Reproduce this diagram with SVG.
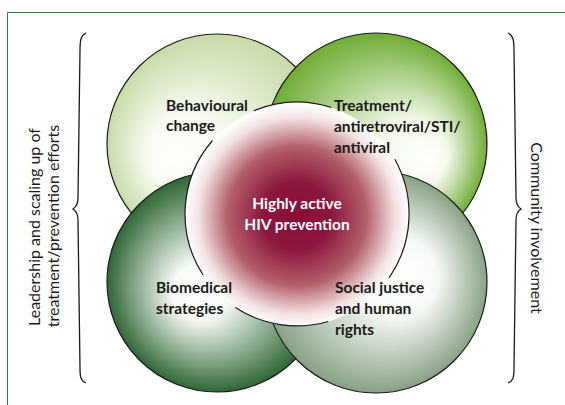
<svg xmlns="http://www.w3.org/2000/svg" width="565" height="405" viewBox="0 0 565 405">
<style>
.circ{stroke:#1a1a1a;stroke-width:1.2}
.lbl{font-family:Lato,"Liberation Sans",sans-serif;font-weight:bold;font-size:15.5px;fill:#1a1a1a}
.ctr{font-family:Lato,"Liberation Sans",sans-serif;font-weight:bold;font-size:15.5px;fill:#ffffff;text-anchor:middle}
.side{font-family:Lato,"Liberation Sans",sans-serif;font-size:16px;fill:#1a1a1a;text-anchor:middle}
.brace{fill:none;stroke:#1a1a1a;stroke-width:1.3}
</style>
<defs>
<radialGradient id="gPale" gradientUnits="userSpaceOnUse" cx="217" cy="144" r="112" fx="170" fy="160">
<stop offset="0" stop-color="#ffffff"/>
<stop offset="0.35" stop-color="#f8fbf2"/>
<stop offset="1" stop-color="#c6daa6"/>
</radialGradient>
<radialGradient id="gGreen" gradientUnits="userSpaceOnUse" cx="376" cy="144" r="112" fx="430" fy="160">
<stop offset="0" stop-color="#ffffff"/>
<stop offset="0.3" stop-color="#f4f9ec"/>
<stop offset="1" stop-color="#6eab33"/>
</radialGradient>
<radialGradient id="gDark" gradientUnits="userSpaceOnUse" cx="217" cy="282" r="112" fx="195" fy="295">
<stop offset="0" stop-color="#ffffff"/>
<stop offset="0.25" stop-color="#f7faf6"/>
<stop offset="1" stop-color="#2a6331"/>
</radialGradient>
<radialGradient id="gGrey" gradientUnits="userSpaceOnUse" cx="376" cy="282" r="112" fx="410" fy="275">
<stop offset="0" stop-color="#ffffff"/>
<stop offset="0.35" stop-color="#f7f9f6"/>
<stop offset="1" stop-color="#86a083"/>
</radialGradient>
<radialGradient id="gCenter" gradientUnits="userSpaceOnUse" cx="297" cy="216" r="112">
<stop offset="0" stop-color="#880d38"/>
<stop offset="0.3" stop-color="#8c163e"/>
<stop offset="0.62" stop-color="#b2606a"/>
<stop offset="0.88" stop-color="#f2e2e2"/>
<stop offset="1" stop-color="#ffffff"/>
</radialGradient>
</defs>
<rect width="565" height="405" fill="#ffffff"/>
<path d="M7.5,405 V12.5 H565" fill="none" stroke="#2e7a45" stroke-width="1"/>

<g id="brace-left"><path class="brace" d="M86,33 C81,35 80,40 80,50 L78,198 C78,204 76,207 73,209 C76,211 78,214 78,220 L80,368 C80,378 81,381 86,383"/></g>
<g id="brace-right"><path class="brace" d="M508,33 C513,35 514,40 514,50 L516,198 C516,204 518,207 521,209 C518,211 516,214 516,220 L514,368 C514,378 513,381 508,383"/></g>

<g id="node-behavioural"><circle class="circ" cx="217" cy="144" r="110" fill="url(#gPale)"/></g>
<g id="node-treatment"><circle class="circ" cx="376" cy="144" r="111" fill="url(#gGreen)"/></g>
<g id="node-biomedical"><circle class="circ" cx="217" cy="282" r="110" fill="url(#gDark)"/></g>
<g id="node-social"><circle class="circ" cx="376" cy="282" r="111" fill="url(#gGrey)"/></g>
<g id="node-center">
<circle cx="297" cy="214" r="112" fill="url(#gCenter)"/>
<path class="circ" fill="none" d="M253.8,110.7 A112,112 0 0 1 331.2,107.4 M394.8,159.3 A112,112 0 0 1 389.1,277.8 M328.2,321.5 A112,112 0 0 1 235.4,307.5 M203.1,275 A112,112 0 0 1 212.5,140.5"/>
<text class="ctr" x="297" y="209">Highly active</text>
<text class="ctr" x="297" y="230">HIV prevention</text>
</g>
<g id="labels">
<text class="lbl" x="166" y="111">Behavioural</text>
<text class="lbl" x="166" y="131">change</text>
<text class="lbl" x="334" y="111">Treatment/</text>
<text class="lbl" x="334" y="132">antiretroviral/STI/</text>
<text class="lbl" x="334" y="153">antiviral</text>
<text class="lbl" x="156" y="293">Biomedical</text>
<text class="lbl" x="156" y="314">strategies</text>
<text class="lbl" x="335" y="293">Social justice</text>
<text class="lbl" x="335" y="314">and human</text>
<text class="lbl" x="335" y="335">rights</text>
</g>
<g id="side-left">
<text class="side" transform="translate(39.5,227) rotate(-90)">Leadership and scaling up of</text>
<text class="side" transform="translate(59,226) rotate(-90)">treatment/prevention efforts</text>
</g>
<g id="side-right">
<text class="side" transform="translate(531,228) rotate(90)">Community involvement</text>
</g>
<g id="connectors"></g>
</svg>
